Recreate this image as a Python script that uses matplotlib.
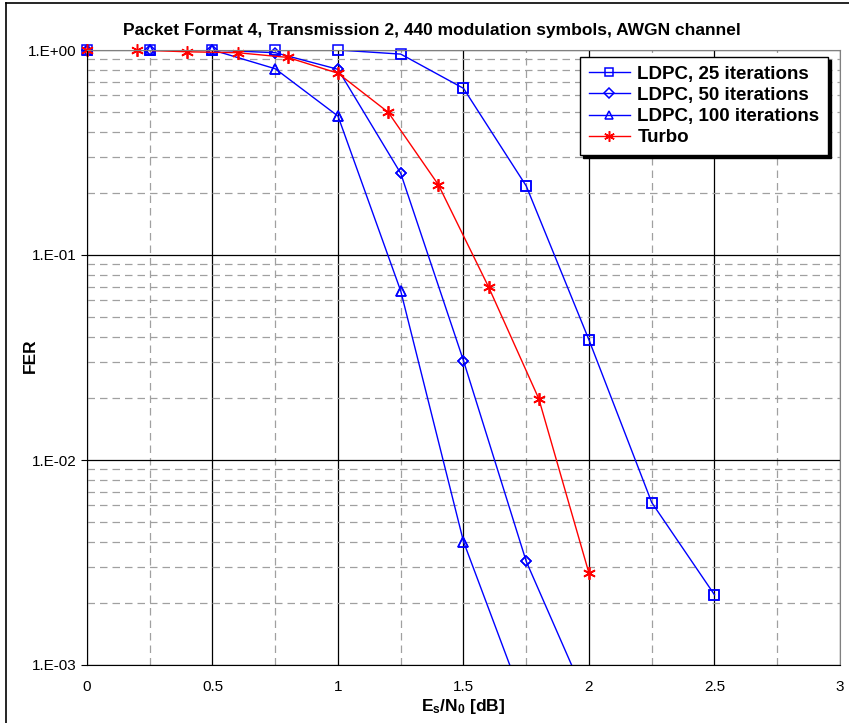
import numpy as np
import matplotlib
matplotlib.use('Agg')
import matplotlib.pyplot as plt
from matplotlib.ticker import FixedLocator, FuncFormatter, LogLocator, NullFormatter
from matplotlib.lines import Line2D

plt.rcParams['font.family'] = ['Liberation Sans', 'DejaVu Sans']
plt.rcParams['mathtext.fontset'] = 'custom'
plt.rcParams['mathtext.bf'] = 'Liberation Sans:bold'
plt.rcParams['mathtext.rm'] = 'Liberation Sans'

# --- данные ---
x_ldpc25 = [0, 0.25, 0.5, 0.75, 1.0, 1.25, 1.5, 1.75, 2.0, 2.25, 2.5]
fer_ldpc25 = [1.0, 1.0, 1.0, 1.0, 1.0, 0.955, 0.65, 0.217, 0.0385, 0.0062, 0.0022]

x_ldpc50 = [0, 0.25, 0.5, 0.75, 1.0, 1.25, 1.5, 1.75, 2.0]
fer_ldpc50 = [1.0, 1.0, 1.0, 0.97, 0.805, 0.25, 0.0305, 0.0032, 0.00064]

x_ldpc100 = [0, 0.25, 0.5, 0.75, 1.0, 1.25, 1.5, 1.75]
fer_ldpc100 = [1.0, 1.0, 1.0, 0.81, 0.476, 0.0667, 0.0040, 0.00061]

x_turbo = [0, 0.2, 0.4, 0.6, 0.8, 1.0, 1.2, 1.4, 1.6, 1.8, 2.0]
fer_turbo = [1.0, 1.0, 0.98, 0.97, 0.92, 0.77, 0.497, 0.22, 0.0698, 0.0199, 0.0028]

labels = ['LDPC, 25 iterations', 'LDPC, 50 iterations', 'LDPC, 100 iterations', 'Turbo']

YMIN = 1e-3

fig = plt.figure(figsize=(8.49, 7.23), dpi=100)
ax = fig.add_axes([87/849, 1 - 665/723, (840-87)/849, (665-50)/723])

# рамка области диаграммы (как в Excel)
fig.add_artist(Line2D([6/849, 6/849], [0, 1 - 3/723], transform=fig.transFigure, color='black', lw=1.2))
fig.add_artist(Line2D([6/849, 1], [1 - 3/723, 1 - 3/723], transform=fig.transFigure, color='black', lw=1.2))

ax.set_yscale('log')
ax.set_xlim(0, 3)
ax.set_ylim(YMIN, 1)

# сетка: основные линии сплошные, дополнительные пунктиром
ax.xaxis.set_major_locator(FixedLocator(np.arange(0, 3.01, 0.5)))
ax.xaxis.set_minor_locator(FixedLocator(np.arange(0.25, 3, 0.5)))
ax.yaxis.set_major_locator(LogLocator(base=10, numticks=10))
ax.yaxis.set_minor_locator(LogLocator(base=10, subs=np.arange(2, 10), numticks=20))
ax.yaxis.set_minor_formatter(NullFormatter())
ax.yaxis.set_major_formatter(FuncFormatter(lambda v, p: '1.E+00' if v >= 1 else f'1.E-{int(round(-np.log10(v))):02d}'))
ax.xaxis.set_major_formatter(FuncFormatter(lambda v, p: f'{v:g}'))

ax.grid(True, which='major', color='black', lw=0.9)
ax.grid(True, which='minor', color='#a0a0a0', lw=0.9, linestyle=(0, (6, 4)))
ax.set_axisbelow(True)

ax.tick_params(axis='x', which='both', length=0, pad=11, labelsize=11)
ax.tick_params(axis='y', which='major', length=4, direction='out', labelsize=11)
ax.tick_params(axis='y', which='minor', length=0)

for s in ['top', 'right']:
    ax.spines[s].set_color('#808080')
for s in ['left', 'bottom']:
    ax.spines[s].set_color('black')

blue = '#0000FF'
red = '#FF0000'
series = [
    (x_ldpc25, fer_ldpc25, blue, 's', 6.5, 'none'),
    (x_ldpc50, fer_ldpc50, blue, 'D', 5.5, 'none'),
    (x_ldpc100, fer_ldpc100, blue, '^', 7, 'none'),
    (x_turbo, fer_turbo, red, (6, 2, 0), 9, red),
]
for (xs, ys, c, m, ms, fc), lab in zip(series, labels):
    # линия обрезается по области графика, маркеры — нет (как в Excel)
    ax.plot(xs, ys, color=c, lw=1.0, marker=m, ms=ms, mfc=fc, mew=1.1, label=lab,
            markevery=[i for i, v in enumerate(ys) if v >= YMIN])
    xin = [x for x, v in zip(xs, ys) if v >= YMIN]
    yin = [v for v in ys if v >= YMIN]
    ax.plot(xin, yin, linestyle='none', color=c, marker=m, ms=ms, mfc=fc, mew=1.1, clip_on=False)

leg = ax.legend(loc='upper right', bbox_to_anchor=(828/849, 1 - 57/723), bbox_transform=fig.transFigure,
                borderaxespad=0, fancybox=False, edgecolor='black', framealpha=1,
                prop={'weight': 'bold', 'size': 13.5}, handlelength=2.2, handletextpad=0.4,
                labelspacing=0.22, borderpad=0.45, markerscale=0.85,
                shadow={'color': 'black', 'alpha': 1})
leg.get_frame().set_linewidth(1.0)
leg.set_zorder(10)

fig.text(432/849, 1 - 31/723, 'Packet Format 4, Transmission 2, 440 modulation symbols, AWGN channel',
         ha='center', va='center', fontsize=12.5, fontweight='bold')
fig.text(463/849, 1 - 707/723, r'$\mathbf{E_s/N_0}$ [dB]', ha='center', va='center', fontsize=12.5, fontweight='bold')
fig.text(30/849, 1 - 356/723, 'FER', ha='center', va='center', fontsize=12.5, fontweight='bold', rotation=90)

fig.savefig('out.png', dpi=100)
